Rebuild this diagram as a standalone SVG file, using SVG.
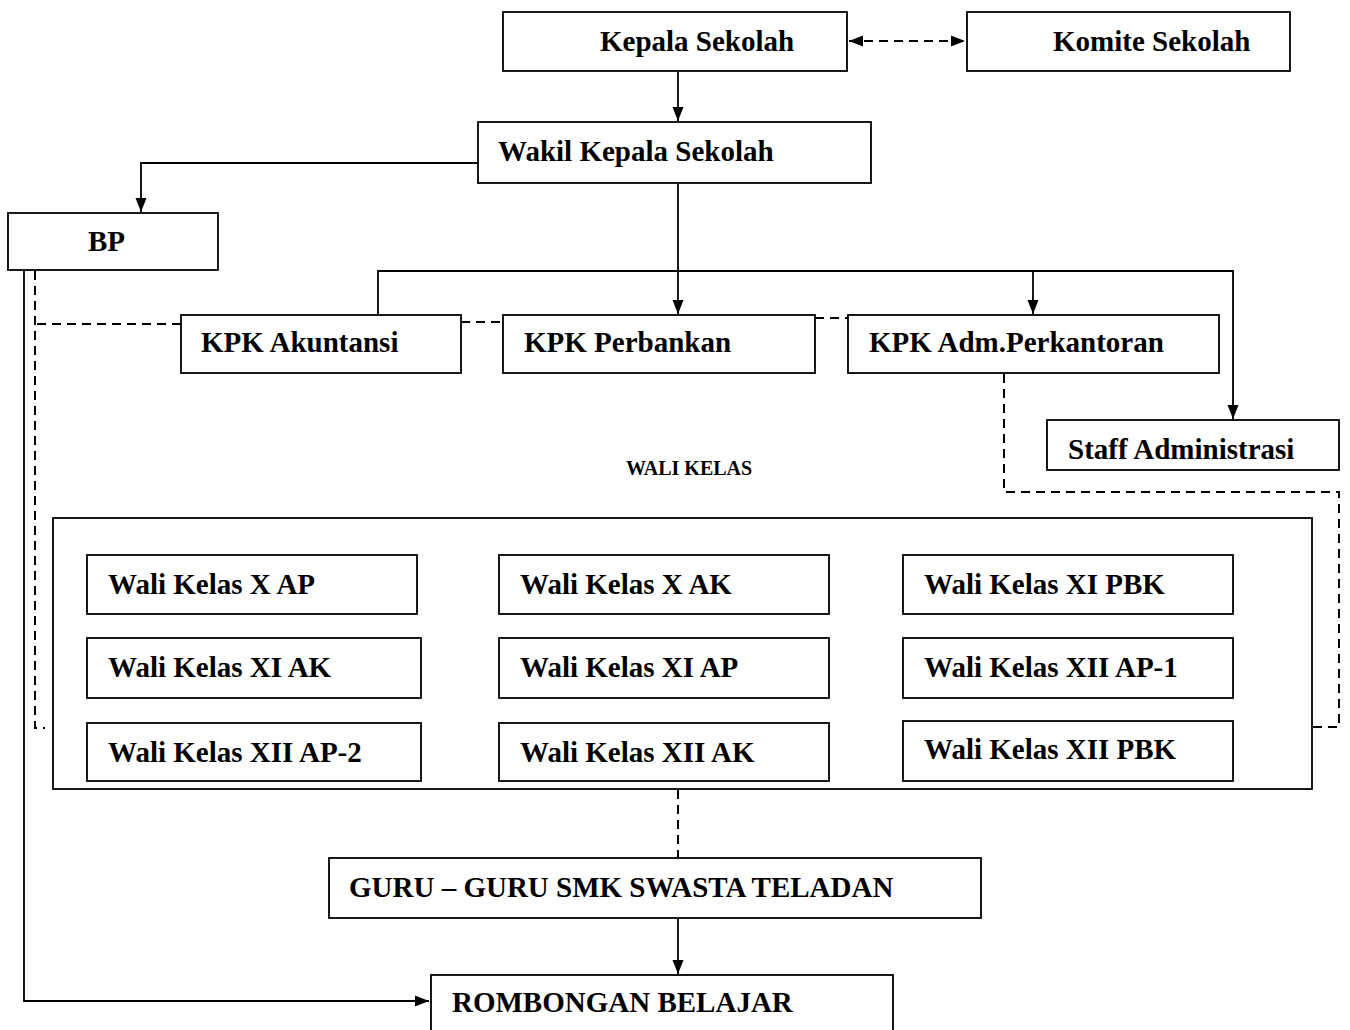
<svg xmlns="http://www.w3.org/2000/svg" width="1350" height="1030" viewBox="0 0 1350 1030">
<style>
.box{fill:#fff;stroke:#000;stroke-width:1.8}
.t{font-family:"Liberation Serif","Times New Roman",serif;font-weight:bold;font-size:29px;fill:#000}
.s{font-family:"Liberation Serif","Times New Roman",serif;font-weight:bold;font-size:20px;fill:#000}
.ln{fill:none;stroke:#000;stroke-width:1.8}
.ds{fill:none;stroke:#000;stroke-width:2;stroke-dasharray:9,6}
</style>
<defs>
<marker id="ah" viewBox="0 0 14 12" refX="14" refY="6" markerWidth="14" markerHeight="12" markerUnits="userSpaceOnUse" orient="auto-start-reverse">
<path d="M0,0.5 L14,6 L0,11.5 Z" fill="#000"/>
</marker>
</defs>
<rect width="1350" height="1030" fill="#fff"/>
<g id="connectors">
<line class="ds" x1="849" y1="41" x2="965" y2="41" marker-start="url(#ah)" marker-end="url(#ah)" stroke-dasharray="8,6"/>
<line class="ln" x1="678" y1="72" x2="678" y2="121" marker-end="url(#ah)"/>
<polyline class="ln" points="478,163 141,163 141,212" marker-end="url(#ah)"/>
<line class="ln" x1="678" y1="184" x2="678" y2="314" marker-end="url(#ah)"/>
<polyline class="ln" points="378,314 378,271 1233,271 1233,419" marker-end="url(#ah)"/>
<line class="ln" x1="1033" y1="271" x2="1033" y2="314" marker-end="url(#ah)"/>
<polyline class="ln" points="24,271 24,1001 429,1001" marker-end="url(#ah)"/>
<polyline class="ds" points="35,271 35,728 45,728"/>
<polyline class="ds" points="181,324 35,324"/>
<line class="ds" x1="461" y1="322" x2="503" y2="322"/>
<line class="ds" x1="815" y1="318" x2="848" y2="318" stroke-width="3"/>
<polyline class="ds" points="1004,374 1004,492 1339,492 1339,727 1313,727"/>
<line class="ds" x1="678" y1="790" x2="678" y2="858"/>
<line class="ln" x1="678" y1="919" x2="678" y2="974" marker-end="url(#ah)"/>
</g>
<g id="kepala"><rect class="box" x="503" y="12" width="344" height="59"/><text class="t" x="600" y="51">Kepala Sekolah</text></g>
<g id="komite"><rect class="box" x="967" y="12" width="323" height="59"/><text class="t" x="1053" y="51">Komite Sekolah</text></g>
<g id="wakil"><rect class="box" x="478" y="122" width="393" height="61"/><text class="t" x="498" y="161">Wakil Kepala Sekolah</text></g>
<g id="bp"><rect class="box" x="8" y="213" width="210" height="57"/><text class="t" x="88" y="251">BP</text></g>
<g id="kpk-akuntansi"><rect class="box" x="181" y="315" width="280" height="58"/><text class="t" x="201" y="352">KPK Akuntansi</text></g>
<g id="kpk-perbankan"><rect class="box" x="503" y="315" width="312" height="58"/><text class="t" x="524" y="352">KPK Perbankan</text></g>
<g id="kpk-adm"><rect class="box" x="848" y="315" width="371" height="58"/><text class="t" x="869" y="352">KPK Adm.Perkantoran</text></g>
<g id="staff"><rect class="box" x="1047" y="420" width="292" height="50"/><text class="t" x="1068" y="459">Staff Administrasi</text></g>
<g id="wali-kelas-label"><text class="s" x="626" y="475">WALI KELAS</text></g>
<g id="wali-container"><rect class="box" x="53" y="518" width="1259" height="271"/></g>
<g id="w1"><rect class="box" x="87" y="555" width="330" height="59"/><text class="t" x="108" y="594">Wali Kelas X AP</text></g>
<g id="w2"><rect class="box" x="499" y="555" width="330" height="59"/><text class="t" x="520" y="594">Wali Kelas X AK</text></g>
<g id="w3"><rect class="box" x="903" y="555" width="330" height="59"/><text class="t" x="924" y="594">Wali Kelas XI PBK</text></g>
<g id="w4"><rect class="box" x="87" y="638" width="334" height="60"/><text class="t" x="108" y="677">Wali Kelas XI AK</text></g>
<g id="w5"><rect class="box" x="499" y="638" width="330" height="60"/><text class="t" x="520" y="677">Wali Kelas XI AP</text></g>
<g id="w6"><rect class="box" x="903" y="638" width="330" height="60"/><text class="t" x="924" y="677">Wali Kelas XII AP-1</text></g>
<g id="w7"><rect class="box" x="87" y="723" width="334" height="58"/><text class="t" x="108" y="762">Wali Kelas XII AP-2</text></g>
<g id="w8"><rect class="box" x="499" y="723" width="330" height="58"/><text class="t" x="520" y="762">Wali Kelas XII AK</text></g>
<g id="w9"><rect class="box" x="903" y="721" width="330" height="60"/><text class="t" x="924" y="759">Wali Kelas XII PBK</text></g>
<g id="guru"><rect class="box" x="329" y="858" width="652" height="60"/><text class="t" x="349" y="897">GURU – GURU SMK SWASTA TELADAN</text></g>
<g id="rombongan"><rect class="box" x="431" y="975" width="462" height="60"/><text class="t" x="452" y="1012">ROMBONGAN BELAJAR</text></g>
</svg>
